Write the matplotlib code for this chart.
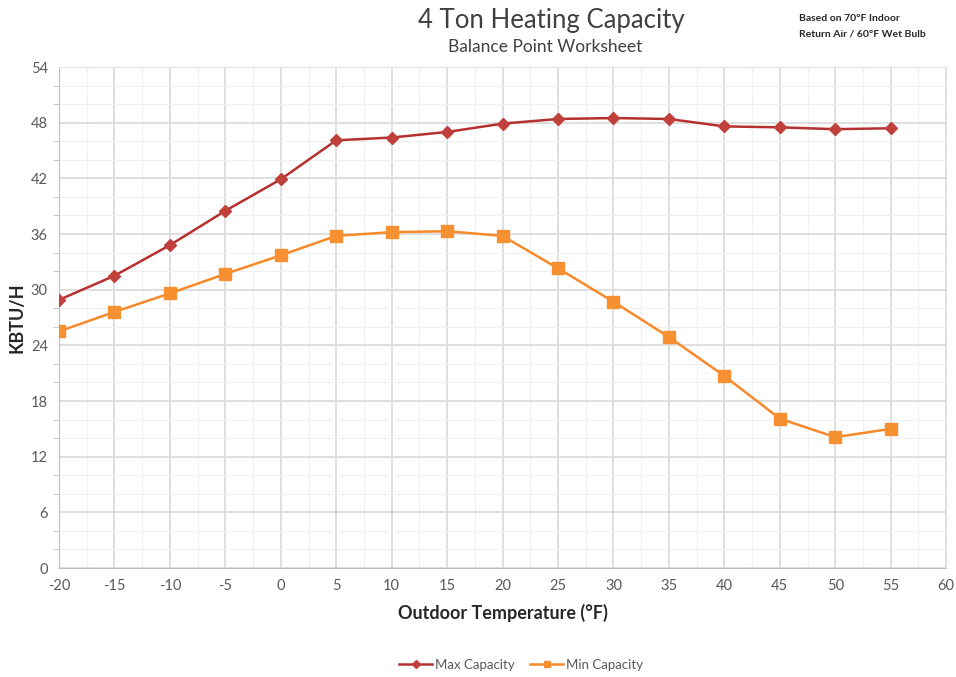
import matplotlib.pyplot as plt
from matplotlib.ticker import MultipleLocator

plt.rcParams['font.family'] = ['Lato', 'DejaVu Sans']
plt.rcParams['axes.unicode_minus'] = False

temps = [-20, -15, -10, -5, 0, 5, 10, 15, 20, 25, 30, 35, 40, 45, 50, 55]
max_capacity = [28.9, 31.5, 34.8, 38.5, 41.9, 46.1, 46.4, 47.0, 47.9, 48.4, 48.5, 48.4, 47.6, 47.5, 47.3, 47.4]
min_capacity = [25.5, 27.6, 29.6, 31.7, 33.7, 35.8, 36.2, 36.3, 35.8, 32.3, 28.7, 24.9, 20.7, 16.1, 14.1, 15.0]

fig = plt.figure(figsize=(9.56, 6.77), dpi=100)
ax = fig.add_axes([0.0617, 0.161, 0.928, 0.740])

ax.plot(temps, max_capacity, color='#b5302f', lw=1.8, marker='D', ms=6.5,
        mfc='#c0403c', mec='#c0403c', label='Max Capacity', zorder=3)
ax.plot(temps, min_capacity, color='#f7892a', lw=1.8, marker='s', ms=8,
        mfc='#f79030', mec='#f79030', label='Min Capacity', zorder=3)

ax.set_xlim(-20, 60)
ax.set_ylim(0, 54)
ax.xaxis.set_major_locator(MultipleLocator(5))
ax.xaxis.set_minor_locator(MultipleLocator(2.5))
ax.yaxis.set_major_locator(MultipleLocator(6))
ax.yaxis.set_minor_locator(MultipleLocator(2))
ax.grid(True, which='major', color='#d9d9d9', lw=1.2)
ax.grid(True, which='minor', color='#f0f0f0', lw=0.9)
ax.set_axisbelow(True)

for s in ax.spines.values():
    s.set_color('#e0e0e0')
ax.spines['left'].set_color('#bfbfbf')
ax.spines['bottom'].set_color('#bfbfbf')
ax.tick_params(which='major', length=0, labelsize=10.5, labelcolor='#595959', pad=8)
ax.tick_params(axis='y', which='minor', length=4, color='#bfbfbf')
ax.tick_params(axis='x', which='minor', length=0)

ax.set_xlabel('Outdoor Temperature (°F)', fontsize=13, fontweight='bold', color='#262626', labelpad=8)
ax.set_ylabel('KBTU/H', fontsize=13, fontweight='bold', color='#262626')
ax.yaxis.set_label_coords(-0.038, 0.5)

fig.text(0.577, 0.970, '4 Ton Heating Capacity', ha='center', va='center', fontsize=18.5, color='#404040')
fig.text(0.570, 0.930, 'Balance Point Worksheet', ha='center', va='center', fontsize=12.5, color='#404040')
fig.text(0.836, 0.973, 'Based on 70°F Indoor', ha='left', va='center', fontsize=7.5, fontweight='bold', color='#262626')
fig.text(0.836, 0.950, 'Return Air / 60°F Wet Bulb', ha='left', va='center', fontsize=7.5, fontweight='bold', color='#262626')

fig.legend(loc='center', bbox_to_anchor=(0.545, 0.018), ncol=2, frameon=False,
           fontsize=9.5, labelcolor='#595959', handlelength=2.5, handletextpad=0.2,
           columnspacing=1.2, markerscale=0.6)

fig.savefig('out.png', dpi=100)
